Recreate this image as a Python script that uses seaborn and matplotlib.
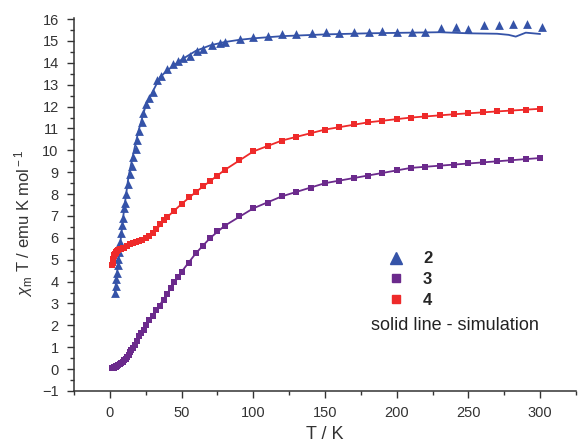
import numpy as np
import pandas as pd
import matplotlib
matplotlib.use('Agg')
import matplotlib.pyplot as plt
import seaborn as sns
from matplotlib.lines import Line2D
from matplotlib.ticker import MultipleLocator

# compound 2 (triangles)
T2 = [3.5, 4.0, 4.5, 5.0, 5.5, 6.0, 6.5, 7.2, 8.0, 8.8, 9.4, 10.0, 10.5, 11.6, 12.8, 13.9,
      15.1, 16.3, 17.9, 19.0, 20.4, 22.1, 23.2, 25.1, 27.4, 29.8, 32.6, 35.4, 39.5, 44.2, 47.6,
      51, 56, 60.5, 65, 71, 77, 80, 91, 100, 110, 120, 130, 141, 151, 160, 170, 181, 190, 200,
      211, 220, 231, 241, 250, 261, 271, 281, 291, 301]
chi2 = [3.5, 3.8, 4.1, 4.4, 4.75, 5.05, 5.35, 5.8, 6.2, 6.6, 6.9, 7.35, 7.6, 8.02, 8.48, 8.94,
        9.3, 9.7, 10.08, 10.46, 10.9, 11.3, 11.7, 12.1, 12.4, 12.66, 13.2, 13.4, 13.7, 13.95, 14.1,
        14.2, 14.3, 14.55, 14.65, 14.8, 14.9, 14.95, 15.07, 15.16, 15.25, 15.3, 15.33, 15.37, 15.4,
        15.38, 15.4, 15.4, 15.44, 15.43, 15.43, 15.43, 15.6, 15.66, 15.55, 15.75, 15.75, 15.77,
        15.78, 15.62]
T2_sim = [3.5, 5, 7, 10, 13, 16, 20, 25, 30, 35, 40, 50, 60, 70, 80, 90, 100, 120, 150, 180,
          210, 230, 250, 270, 278, 283, 290, 300]
chi2_sim = [3.5, 4.4, 5.6, 7.35, 8.8, 9.75, 10.9, 12.05, 12.7, 13.35, 13.65, 14.15, 14.55, 14.8,
            14.95, 15.05, 15.12, 15.22, 15.3, 15.35, 15.38, 15.4, 15.35, 15.33, 15.28, 15.2,
            15.38, 15.32]

# compound 3 (purple squares)
T3 = [1.8, 2.2, 2.6, 3.0, 3.5, 4, 4.5, 5, 6, 7, 8, 9, 10, 11, 12, 13, 14, 15, 16, 17.5, 19,
      20.5, 22, 23.5, 25, 27.5, 30, 32.5, 35, 37.5, 40, 42.5, 45, 47.5, 50, 55, 60, 65, 70, 75,
      80, 90, 100, 110, 120, 130, 140, 150, 160, 170, 180, 190, 200, 210, 220, 230, 240, 250,
      260, 270, 280, 290, 300]
chi3 = [0.05, 0.06, 0.07, 0.08, 0.09, 0.1, 0.12, 0.14, 0.18, 0.22, 0.27, 0.33, 0.4, 0.48, 0.57,
        0.66, 0.76, 0.86, 0.96, 1.12, 1.3, 1.5, 1.65, 1.8, 2.0, 2.25, 2.45, 2.68, 2.9, 3.17, 3.45,
        3.72, 4.0, 4.22, 4.45, 4.85, 5.3, 5.65, 6.0, 6.3, 6.55, 6.98, 7.35, 7.6, 7.9, 8.1, 8.3,
        8.5, 8.6, 8.75, 8.85, 8.95, 9.1, 9.2, 9.22, 9.28, 9.35, 9.4, 9.45, 9.5, 9.58, 9.6, 9.65]
T3_sim = [1.8, 5, 10, 15, 20, 25, 30, 40, 50, 60, 70, 80, 100, 120, 150, 180, 210, 240, 270, 300]
chi3_sim = [0.05, 0.14, 0.4, 0.86, 1.42, 2.0, 2.45, 3.45, 4.45, 5.3, 6.0, 6.55, 7.35, 7.9, 8.5,
            8.85, 9.2, 9.35, 9.5, 9.65]

# compound 4 (red squares)
T4 = [1.8, 2.0, 2.2, 2.5, 2.8, 3.2, 3.6, 4.0, 4.5, 5, 6, 7, 8, 9, 10, 12, 14, 16, 18, 20, 22.5,
      25, 27.5, 30, 32.5, 35, 37.5, 40, 45, 50, 55, 60, 65, 70, 75, 80, 90, 100, 110, 120, 130,
      140, 150, 160, 170, 180, 190, 200, 210, 220, 230, 240, 250, 260, 270, 280, 290, 300]
chi4 = [4.75, 4.85, 4.95, 5.05, 5.15, 5.22, 5.28, 5.32, 5.36, 5.4, 5.44, 5.47, 5.5, 5.52, 5.55,
        5.62, 5.7, 5.75, 5.8, 5.85, 5.92, 6.0, 6.1, 6.2, 6.4, 6.65, 6.8, 6.95, 7.25, 7.55, 7.85,
        8.1, 8.35, 8.6, 8.85, 9.1, 9.55, 9.95, 10.2, 10.45, 10.6, 10.8, 10.95, 11.05, 11.2, 11.28,
        11.33, 11.45, 11.5, 11.55, 11.6, 11.65, 11.72, 11.75, 11.78, 11.82, 11.85, 11.9]
T4_sim = [1.8, 2.5, 3.5, 5, 8, 12, 20, 30, 40, 50, 60, 70, 80, 100, 120, 150, 180, 210, 240, 270, 300]
chi4_sim = [4.75, 5.05, 5.27, 5.4, 5.5, 5.62, 5.85, 6.2, 6.95, 7.55, 8.1, 8.6, 9.1, 9.95, 10.45,
            10.95, 11.28, 11.5, 11.65, 11.78, 11.9]

labels = ['2', '3', '4']
colors = ['#3553a8', '#6b2a8c', '#ee2a2a']
markers = ['^', 's', 's']
sizes = [40, 24, 24]

sns.set_style('ticks')
plt.rcParams['font.family'] = ['Liberation Sans', 'DejaVu Sans']
plt.rcParams['mathtext.fontset'] = 'custom'
plt.rcParams['mathtext.rm'] = 'Liberation Sans'
plt.rcParams['mathtext.it'] = 'Liberation Sans:italic'

fig = plt.figure(figsize=(5.78, 4.45), dpi=100)
ax = fig.add_axes([74 / 578, 54 / 445, 502 / 578, 373 / 445])

data = [(T2, chi2, T2_sim, chi2_sim), (T3, chi3, T3_sim, chi3_sim), (T4, chi4, T4_sim, chi4_sim)]
for (t, c, ts, cs), lab, col, mk, sz in zip(data, labels, colors, markers, sizes):
    sns.lineplot(x=ts, y=cs, ax=ax, color=col, lw=1.3, sort=False, estimator=None, zorder=2)
    sns.scatterplot(x=t, y=c, ax=ax, color=col, marker=mk, s=sz, linewidth=0, zorder=3)

ax.set_xlim(-25, 325)
ax.set_ylim(-1, 16.05)
ax.xaxis.set_major_locator(MultipleLocator(50))
ax.xaxis.set_minor_locator(MultipleLocator(25))
ax.yaxis.set_major_locator(MultipleLocator(1))
ax.yaxis.set_minor_locator(MultipleLocator(0.5))
ax.set_xticks([0, 50, 100, 150, 200, 250, 300])
ax.tick_params(which='major', direction='out', length=5, width=1, labelsize=10.5,
               colors='#333333', pad=6)
ax.tick_params(which='minor', direction='out', length=3, width=1, colors='#333333')
for s in ['left', 'bottom']:
    ax.spines[s].set_linewidth(1.1)
    ax.spines[s].set_color('#333333')
sns.despine(ax=ax)

ax.set_xlabel('T / K', fontsize=13, color='#333333', labelpad=4)
ax.set_ylabel(r'$\chi_{\rm m}$ T / emu K mol$^{\rm -1}$', fontsize=12, color='#333333')
ax.yaxis.set_label_coords(-0.077, 0.45)

handles = [Line2D([], [], ls='none', marker=m, color=c, markersize=ms)
           for m, c, ms in zip(markers, colors, [8, 6, 6])]
leg = ax.legend(handles, labels, loc='upper left', bbox_to_anchor=(378 / 578, 1 - 243 / 445),
                bbox_transform=fig.transFigure, frameon=False, handlelength=1.2,
                handletextpad=1.0, labelspacing=0.35, borderpad=0,
                prop={'weight': 'bold', 'size': 12})
fig.text(371 / 578, 1 - 326 / 445, 'solid line - simulation', fontsize=13,
         color='#222222', va='center', ha='left')

fig.savefig('out.png', dpi=100)
